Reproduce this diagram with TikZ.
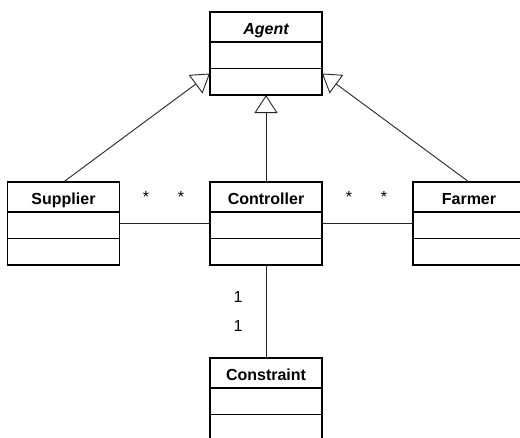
\documentclass[tikz,border=0pt]{standalone}
\usepackage{fontspec}
\setmainfont{Liberation Sans}
\usetikzlibrary{arrows.meta, positioning}

\begin{document}
\begin{tikzpicture}[x=1pt, y=-1pt, font=\fontsize{16}{19}\selectfont,
  classname/.style={draw, line width=1.4pt, minimum width=112pt, minimum height=30pt,
    inner sep=0pt, outer sep=0pt, text height=17pt, text depth=3pt,
    font=\fontsize{16}{19}\selectfont\bfseries},
  compart/.style={draw, line width=1.4pt, minimum width=112pt, minimum height=26.5pt,
    inner sep=0pt, outer sep=0pt},
  gen/.style={-{Triangle[open, length=18pt, width=23pt]}, line width=0.9pt, black!85},
  assoc/.style={line width=0.9pt, black!85},
  mult/.style={anchor=base, inner sep=0pt}]
\useasboundingbox (0,0) rectangle (520,437);

% classes: name, attributes, operations
\foreach \n/\x/\y/\t in {Agent/266/12/{\itshape Agent}, Supplier/63.5/182/Supplier,
    Controller/266/182/Controller, Farmer/469/182/Farmer, Constraint/266/358/Constraint}{
  \node[classname, anchor=north] (\n) at (\x,\y) {\t};
  \node[compart, below=0pt of \n] (\n-a) {};
  \node[compart, below=0pt of \n-a] (\n-m) {};
}

% generalisations
\draw[gen] (Supplier.north) -- ([yshift=-5pt]Agent-m.north west);
\draw[gen] (Controller.north) -- (Agent-m.south);
\draw[gen] (Farmer.north) -- ([yshift=-5pt]Agent-m.north east);

% associations
\draw[assoc] ([yshift=2.3pt]Supplier-a.east) -- ([yshift=2.3pt]Controller-a.west);
\draw[assoc] ([yshift=2.3pt]Controller-a.east) -- ([yshift=2.3pt]Farmer-a.west);
\draw[assoc] (Controller-m.south) -- (Constraint.north);

% multiplicities
\node[mult] (m1) at (146,202.6) {*};
\node[mult] (m2) at (181,202.6) {*};
\node[mult] (m3) at (349,202.6) {*};
\node[mult] (m4) at (384,202.6) {*};
\node[mult] (m5) at (238,302.7) {1};
\node[mult] (m6) at (238,331.7) {1};
\end{tikzpicture}
\end{document}
